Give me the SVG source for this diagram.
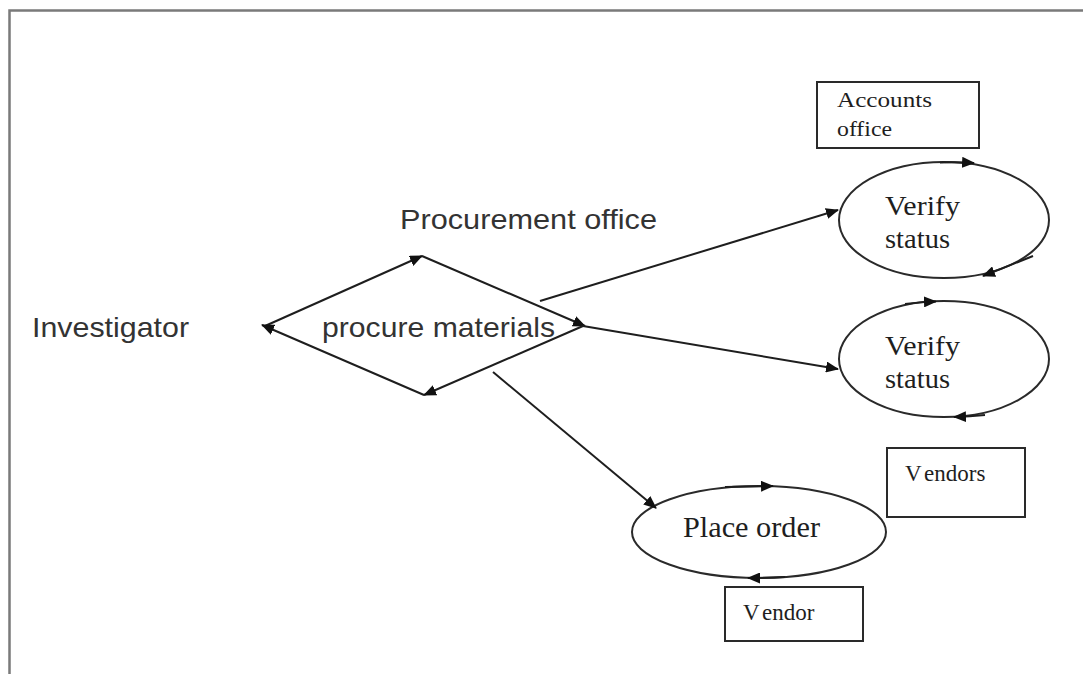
<svg xmlns="http://www.w3.org/2000/svg" width="1083" height="674" viewBox="0 0 1083 674">
  <style>
    .sans { font-family: "Liberation Sans", Arial, sans-serif; fill: #333333; }
    .serif { font-family: "Liberation Serif", "Times New Roman", serif; fill: #1e1e1e; }
    .edge { stroke: #1e1e1e; stroke-width: 2; fill: none; }
    .shape { stroke: #2a2a2a; stroke-width: 2; fill: none; }
    .box { stroke: #2a2a2a; stroke-width: 2; fill: #ffffff; }
  </style>
  <defs>
    <marker id="arrow" viewBox="0 0 13 11" refX="12" refY="5.5" markerWidth="13" markerHeight="11" markerUnits="userSpaceOnUse" orient="auto">
      <path d="M0,0 L13,5.5 L0,11 Z" fill="#111"/>
    </marker>
  </defs>

  <rect width="1083" height="674" fill="#ffffff"/>
  <!-- outer frame -->
  <rect x="9.5" y="10.5" width="1100" height="700" fill="none" stroke="#7a7a7a" stroke-width="2.5"/>

  <g id="investigator">
    <text class="sans" x="32" y="337" font-size="28" textLength="157" lengthAdjust="spacingAndGlyphs">Investigator</text>
  </g>

  <g id="procurement-office">
    <text class="sans" x="400" y="229" font-size="28" textLength="257" lengthAdjust="spacingAndGlyphs">Procurement office</text>
  </g>

  <g id="procure-materials">
    <text class="sans" x="322" y="337" font-size="28" textLength="233" lengthAdjust="spacingAndGlyphs">procure materials</text>
  </g>

  <g id="accounts-office">
    <rect class="box" x="817" y="82" width="162" height="66"/>
    <text class="serif" x="837" y="107" font-size="22" textLength="95" lengthAdjust="spacingAndGlyphs">Accounts</text>
    <text class="serif" x="837" y="136" font-size="22" textLength="55" lengthAdjust="spacingAndGlyphs">office</text>
  </g>

  <g id="verify-status-1">
    <ellipse class="shape" cx="944" cy="220" rx="105" ry="58"/>
    <text class="serif" x="885" y="215" font-size="28" textLength="75" lengthAdjust="spacingAndGlyphs">Verify</text>
    <text class="serif" x="885" y="248" font-size="28" textLength="65" lengthAdjust="spacingAndGlyphs">status</text>
  </g>

  <g id="verify-status-2">
    <ellipse class="shape" cx="944" cy="359" rx="105" ry="58"/>
    <text class="serif" x="885" y="355" font-size="28" textLength="75" lengthAdjust="spacingAndGlyphs">Verify</text>
    <text class="serif" x="885" y="388" font-size="28" textLength="65" lengthAdjust="spacingAndGlyphs">status</text>
  </g>

  <g id="vendors">
    <rect class="box" x="887" y="448" width="138" height="69"/>
    <text class="serif" x="905" y="481" font-size="23"><tspan>V</tspan><tspan dx="5">endors</tspan></text>
  </g>

  <g id="place-order">
    <ellipse class="shape" cx="759" cy="532" rx="127" ry="46"/>
    <text class="serif" x="683" y="537" font-size="30" textLength="137" lengthAdjust="spacingAndGlyphs">Place order</text>
  </g>

  <g id="vendor">
    <rect class="box" x="725" y="587" width="138" height="54"/>
    <text class="serif" x="743" y="620" font-size="23"><tspan>V</tspan><tspan dx="5">endor</tspan></text>
  </g>

  <g id="connectors">
    <!-- diamond sides, clockwise -->
    <line class="edge" x1="265" y1="326" x2="422" y2="256" marker-end="url(#arrow)"/>
    <line class="edge" x1="422" y1="256" x2="585" y2="326" marker-end="url(#arrow)"/>
    <line class="edge" x1="583" y1="326" x2="424" y2="395" marker-end="url(#arrow)"/>
    <line class="edge" x1="424" y1="395" x2="262" y2="325" marker-end="url(#arrow)"/>
    <!-- out of the diamond -->
    <line class="edge" x1="540" y1="301" x2="838" y2="210" marker-end="url(#arrow)"/>
    <line class="edge" x1="583" y1="326" x2="838" y2="369" marker-end="url(#arrow)"/>
    <line class="edge" x1="493" y1="372" x2="656" y2="508" marker-end="url(#arrow)"/>
    <!-- loops on the ellipses -->
    <path class="edge" d="M940,162.5 Q958,162 974,163" marker-end="url(#arrow)"/>
    <line class="edge" x1="1033" y1="256" x2="983" y2="276" marker-end="url(#arrow)"/>
    <path class="edge" d="M905,304 Q920,302 936,301.5" marker-end="url(#arrow)"/>
    <path class="edge" d="M985,415 Q970,416.5 954,417" marker-end="url(#arrow)"/>
    <line class="edge" x1="725" y1="487" x2="773" y2="486" marker-end="url(#arrow)"/>
    <path class="edge" d="M785,577 Q765,578 748,578" marker-end="url(#arrow)"/>
  </g>
</svg>
